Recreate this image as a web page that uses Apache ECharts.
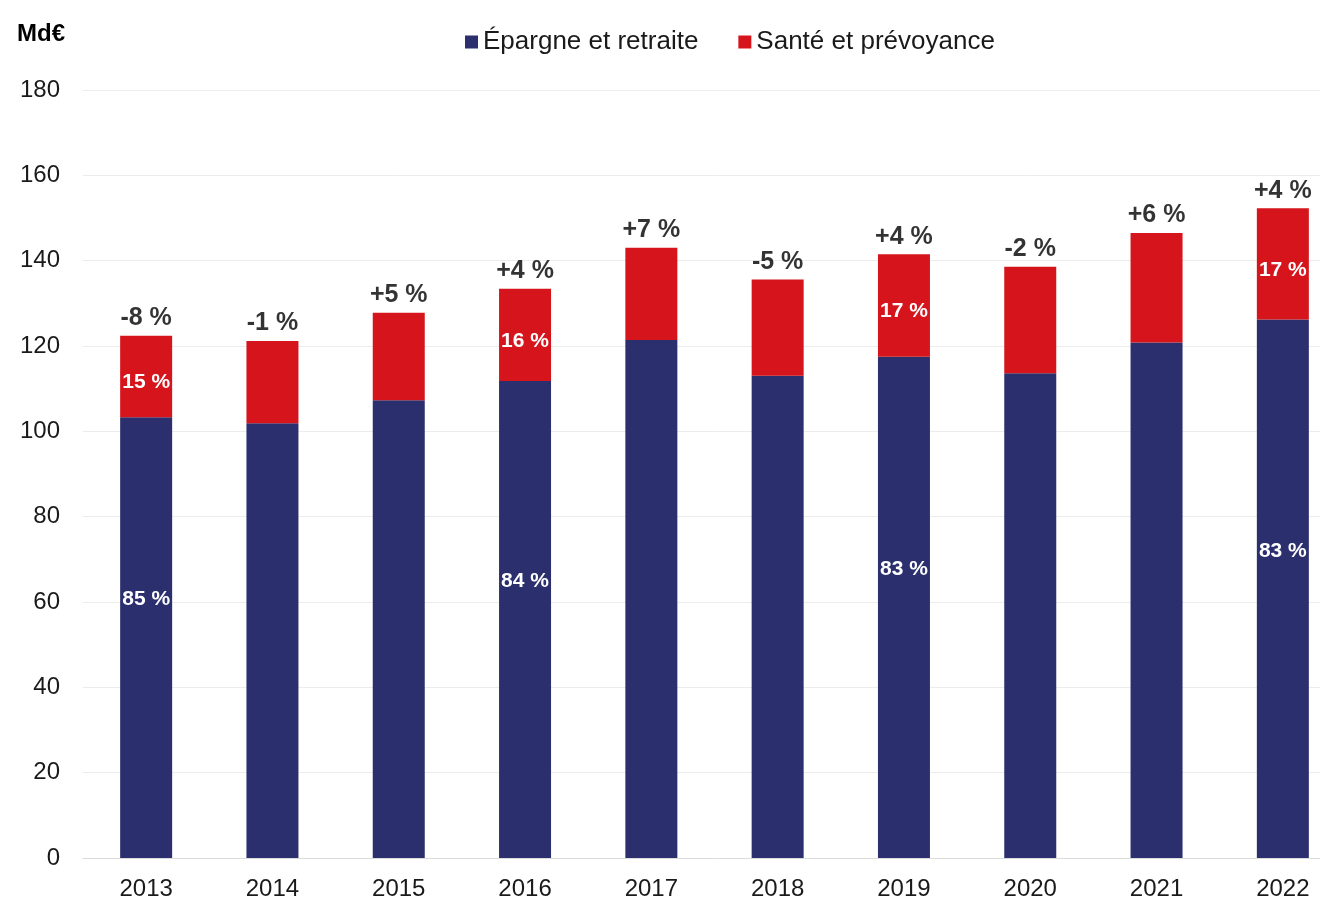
<!DOCTYPE html>
<html>
<head>
<meta charset="utf-8">
<script src="https://cdn.jsdelivr.net/npm/echarts@6/dist/echarts.min.js"></script>
<style>
  html, body { margin: 0; padding: 0; background: #fff; overflow: hidden; }
  /* la zone de tracé déborde légèrement à droite, comme sur l'original */
  #main { width: 1346px; height: 901px; }
</style>
</head>
<body>
<div id="main"></div>
<script>
// données (Md€)
var years = ['2013', '2014', '2015', '2016', '2017', '2018', '2019', '2020', '2021', '2022'];
var epargne = [103.3, 101.9, 107.3, 111.8, 121.4, 113.0, 117.5, 113.6, 120.8, 126.2];
var sante = [19.1, 19.3, 20.5, 21.6, 21.6, 22.6, 24.0, 25.0, 25.7, 26.1];
var evolution = ['-8 %', '-1 %', '+5 %', '+4 %', '+7 %', '-5 %', '+4 %', '-2 %', '+6 %', '+4 %'];
var partEpargne = ['85 %', '', '', '84 %', '', '', '83 %', '', '', '83 %'];
var partSante = ['15 %', '', '', '16 %', '', '', '17 %', '', '', '17 %'];

var totals = epargne.map(function (v, i) { return v + sante[i]; });

var chart = echarts.init(document.getElementById('main'));

var fontFam = 'Liberation Sans, Arial, sans-serif';

var option = {
    animation: false,
    textStyle: { fontFamily: fontFam },
    title: {
        text: 'Md€',
        left: 12,
        top: 17,
        textStyle: { fontFamily: fontFam, fontSize: 24, fontWeight: 'bold', color: '#000' }
    },
    legend: {
        data: ['Épargne et retraite', 'Santé et prévoyance'],
        left: 460,
        top: 24,
        icon: 'rect',
        itemWidth: 13,
        itemHeight: 13,
        itemGap: 40,
        textStyle: { fontFamily: fontFam, fontSize: 26, color: '#1a1a1a' }
    },
    grid: {
        left: 83,
        right: 0,
        top: 90,
        bottom: 43
    },
    xAxis: {
        type: 'category',
        data: years,
        axisTick: { show: false },
        axisLine: { lineStyle: { color: '#dcdcdc' } },
        axisLabel: { fontFamily: fontFam, fontSize: 24, color: '#1a1a1a', margin: 19 }
    },
    yAxis: {
        type: 'value',
        min: 0,
        max: 180,
        interval: 20,
        axisLine: { show: false },
        axisTick: { show: false },
        splitLine: { lineStyle: { color: '#ececec' } },
        axisLabel: { fontFamily: fontFam, fontSize: 24, color: '#1a1a1a', margin: 23 }
    },
    series: [
        {
            name: 'Épargne et retraite',
            type: 'bar',
            stack: 'tot',
            barWidth: 52,
            itemStyle: { color: '#2b2f6e' },
            label: {
                show: true,
                position: 'inside',
                offset: [0, -38],
                color: '#fff',
                fontFamily: fontFam,
                fontSize: 21,
                fontWeight: 'bold',
                formatter: function (p) { return partEpargne[p.dataIndex]; }
            },
            data: epargne
        },
        {
            name: 'Santé et prévoyance',
            type: 'bar',
            stack: 'tot',
            barWidth: 52,
            itemStyle: { color: '#d6141b' },
            label: {
                show: true,
                position: 'inside',
                offset: [0, 6],
                color: '#fff',
                fontFamily: fontFam,
                fontSize: 21,
                fontWeight: 'bold',
                formatter: function (p) { return partSante[p.dataIndex]; }
            },
            data: sante
        },
        {
            // évolution annuelle au-dessus des barres
            name: 'evolution',
            type: 'scatter',
            symbolSize: 0,
            silent: true,
            label: {
                show: true,
                position: 'top',
                distance: 5,
                color: '#000',
                fontFamily: fontFam,
                fontSize: 25,
                fontWeight: 'bold',
                formatter: function (p) { return evolution[p.dataIndex]; }
            },
            data: totals
        }
    ]
};

chart.setOption(option);
</script>
</body>
</html>
